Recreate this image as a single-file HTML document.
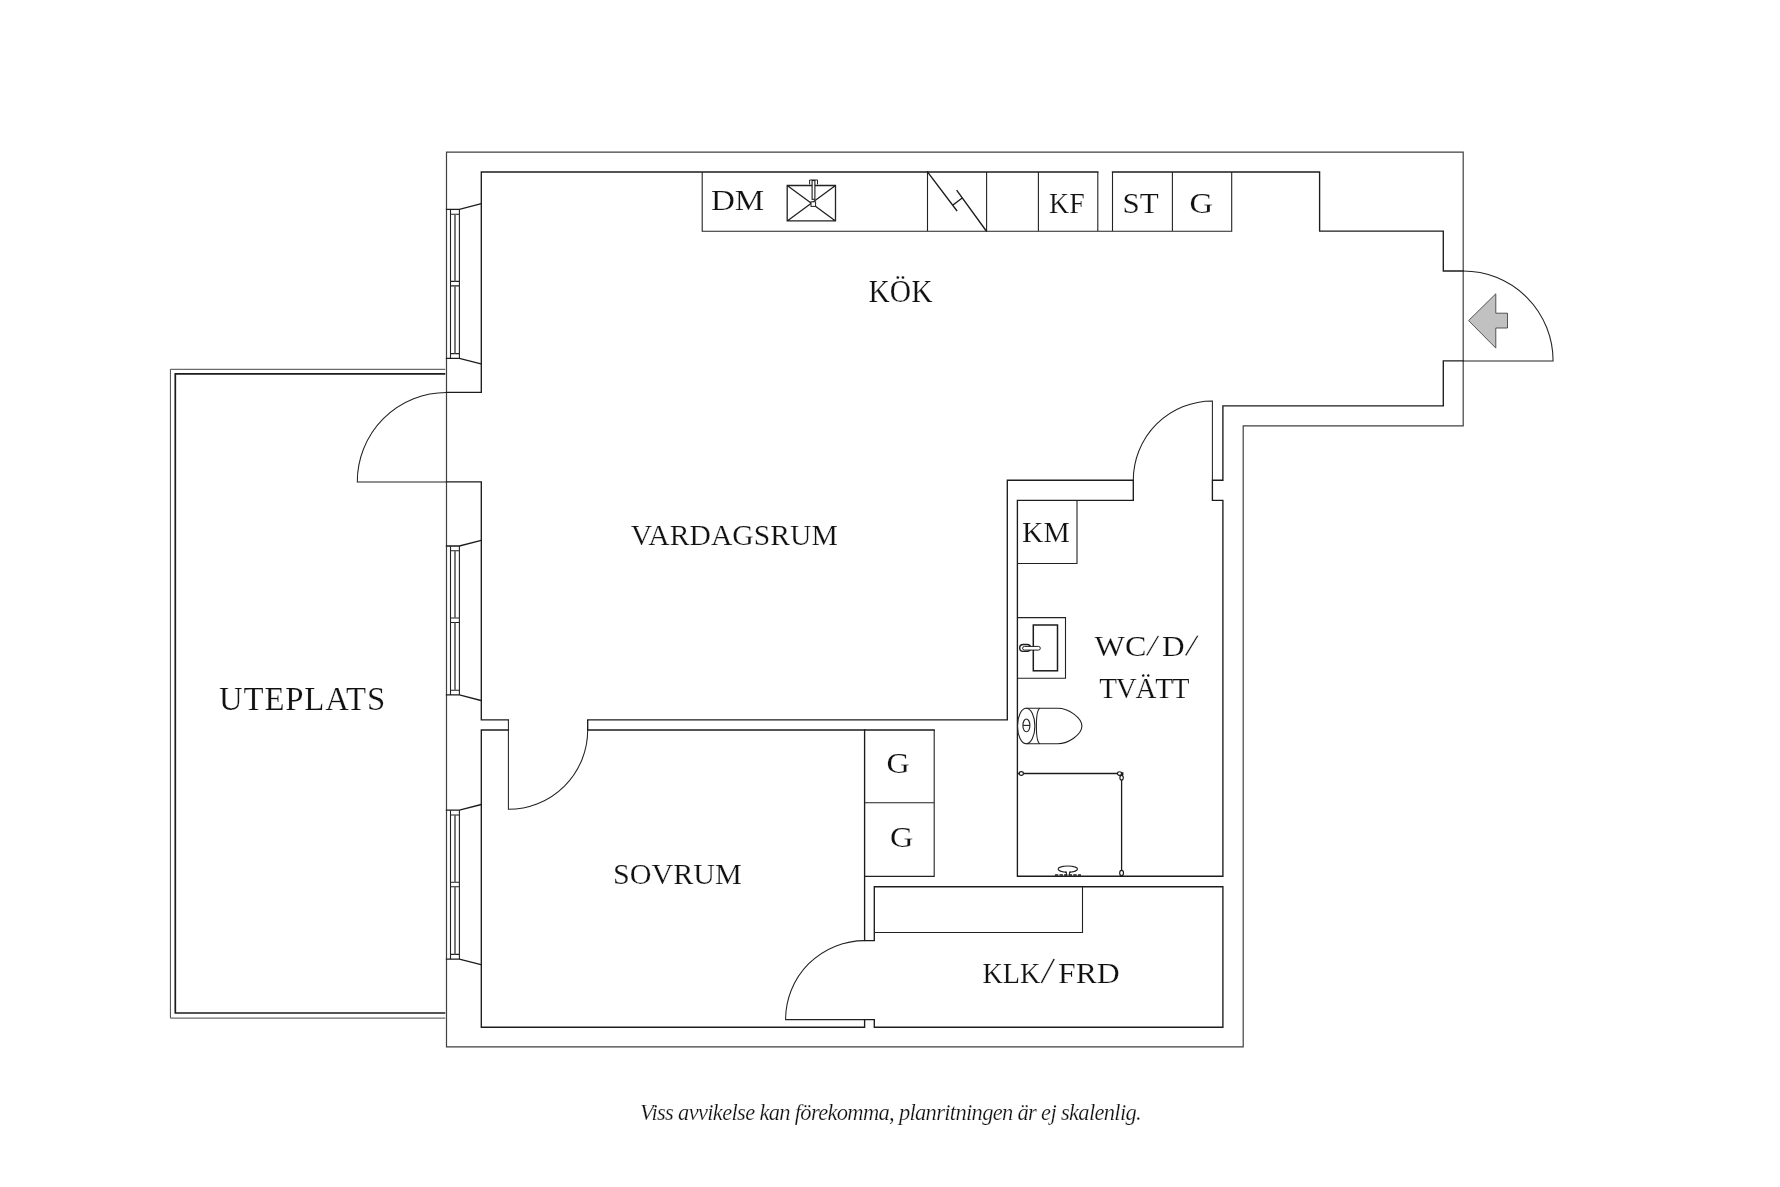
<!DOCTYPE html>
<html lang="sv">
<head>
<meta charset="utf-8">
<title>Planritning</title>
<style>
html,body{margin:0;padding:0;background:#fff;}
body{width:1780px;height:1187px;overflow:hidden;}
svg{display:block;filter:grayscale(1);}
.w{fill:none;stroke:#1c1c1c;stroke-width:1.35;stroke-linecap:square;stroke-linejoin:miter;}
.o{fill:none;stroke:#404040;stroke-width:1.2;stroke-linecap:square;}
.t{fill:none;stroke:#222;stroke-width:1.1;}
.d{fill:none;stroke:#222;stroke-width:1.05;}
.g{fill:none;stroke:#5a5a5a;stroke-width:1.6;}
text{font-family:"Liberation Serif",serif;fill:#111;stroke:#fff;stroke-width:.2;}

</style>
</head>
<body>
<svg width="1780" height="1187" viewBox="0 0 1780 1187">
<rect width="1780" height="1187" fill="#fff"/>

<!-- outer wall -->
<path class="o" d="M446.5 152.2H1463.2V425.8H1243.2V1046.9H446.5Z"/>

<!-- uteplats -->
<path class="o" style="stroke:#484848;stroke-width:1;stroke-linecap:butt" d="M445.3 369.3H170.4V1018.1H445.3"/>
<path class="w" style="stroke-width:1.7;stroke-linecap:butt" d="M445.3 373.8H175.3V1013H445.3"/>

<!-- inner walls: kitchen / living -->
<path class="w" d="M446.5 392.4H481.3V172H1097.8M1112.5 172H1319.6V231.1H1443.3V271H1463.2"/>
<path class="w" d="M1463.2 360.9H1443.3V405.9H1222.9V480.2H1212.4V500.3H1222.9V876.2H1017.4V500.3H1133.3V480.2H1007.3V719.9H587.7V730H934.2"/>
<path class="w" d="M446.5 481.9H481.3V719.9H508.4"/>
<path class="w" d="M508.4 730H481.3V1027.2H864.6V1019.6H874.3V1027.2H1222.9V886.7H874.3V940.6H864.6V730"/>

<!-- G closets -->
<path class="t" d="M934.2 730V876.4H864.6M864.6 802.8H934.2"/>
<!-- closet shelf -->
<path class="t" d="M874.3 932.5H1082.5V886.7"/>

<!-- kitchen counter -->
<path class="t" d="M702.2 172V231.2H1231.7V172M927.5 172V231.2M986.6 172V231.2M1038.4 172V231.2M1097.8 172V231.2M1112.5 172V231.2M1172.4 172V231.2"/>
<!-- stove -->
<path class="w" d="M927.5 172L956.7 210.5M957 190.6L986.3 231M952.9 205.1L962 198.2"/>
<!-- sink -->
<path class="t" style="stroke-width:1.3" d="M787.2 185.5H835.5V220.9H787.2ZM787.2 185.5L835.5 220.9M835.5 185.5L787.2 220.9"/>
<rect x="811" y="201.8" width="4.6" height="4.6" fill="#fff" stroke="#222" stroke-width="1"/>
<rect x="812.1" y="180.5" width="2.8" height="18.8" fill="#fff" stroke="#1c1c1c" stroke-width="1.1"/>
<path class="t" style="stroke-width:1" d="M809.6 184.4V180H817.5V184.4"/>

<!-- KM -->
<path class="t" d="M1077 500.3V563.5H1017.4"/>
<!-- basin -->
<path class="t" d="M1017.4 617.6H1065.5V678.2H1017.4"/>
<rect x="1033.3" y="625" width="24.2" height="45.8" fill="none" stroke="#1c1c1c" stroke-width="1.5"/>
<rect x="1019.7" y="644.5" width="10.8" height="6.9" rx="3.4" fill="#fff" stroke="#1c1c1c" stroke-width="1.4"/>
<rect x="1022.6" y="646.4" width="17.7" height="3.7" rx="1.85" fill="#fff" stroke="#1c1c1c" stroke-width="1"/>

<!-- toilet -->
<ellipse class="t" cx="1026.2" cy="726.05" rx="8.7" ry="17.75"/>
<path class="t" d="M1026.2 708.3H1057.6C1068.8 708.3 1081.9 717.85 1081.9 726.05C1081.9 734.25 1068.8 743.8 1057.6 743.8H1026.2"/>
<path class="t" d="M1039.9 708.3C1035.2 710.5 1035.2 741.6 1039.9 743.8"/>
<ellipse class="t" cx="1026.4" cy="725.4" rx="3.5" ry="6.4"/>
<path class="t" d="M1023 725.4H1029.8"/>

<!-- shower -->
<path class="w" style="stroke-width:1.3" d="M1018 773.5H1121.6V876"/>
<path d="M1120.6 772.2H1123.4V775H1120.6Z" fill="#1c1c1c"/>
<ellipse cx="1021.3" cy="773.5" rx="2.1" ry="1.9" fill="#fff" stroke="#1c1c1c" stroke-width="1.15"/>
<ellipse cx="1119.5" cy="773.5" rx="2" ry="1.8" fill="#fff" stroke="#1c1c1c" stroke-width="1.15"/>
<ellipse cx="1121.6" cy="777.7" rx="1.7" ry="2.3" fill="#fff" stroke="#1c1c1c" stroke-width="1.15"/>
<ellipse cx="1121.6" cy="873" rx="1.9" ry="2.6" fill="#fff" stroke="#1c1c1c" stroke-width="1.15"/>
<ellipse class="t" cx="1067.8" cy="869.1" rx="9.7" ry="3.1"/>
<rect x="1066.9" y="871" width="2.1" height="3" fill="#fff"/>
<path class="t" d="M1066.4 875.8V873.4Q1066.4 872.3 1065 871.9M1069.4 875.8V873.4Q1069.4 872.3 1070.8 871.9"/>
<path d="M1054.9 875H1081" stroke="#1c1c1c" stroke-width="1.3" stroke-dasharray="3.4 1.2" fill="none"/>

<!-- windows -->
<g id="win1">
<path class="w" d="M446.5 209.4H459.4L481.3 203.7M446.5 358.3H459.4L481.3 364"/>
<path class="t" d="M450.5 209.4V358.3M459.4 209.4V358.3M450.5 214.2H459.4M450.5 353.6H459.4M450.5 281.4H459.4M450.5 285.9H459.4"/>
<path class="g" d="M455 214.2V281.4M455 285.9V353.6"/>
</g>
<g id="win2" transform="translate(0 336.6)">
<path class="w" d="M446.5 209.4H459.4L481.3 203.7M446.5 358.3H459.4L481.3 364"/>
<path class="t" d="M450.5 209.4V358.3M459.4 209.4V358.3M450.5 214.2H459.4M450.5 353.6H459.4M450.5 281.4H459.4M450.5 285.9H459.4"/>
<path class="g" d="M455 214.2V281.4M455 285.9V353.6"/>
</g>
<g id="win3" transform="translate(0 600.8)">
<path class="w" d="M446.5 209.4H459.4L481.3 203.7M446.5 358.3H459.4L481.3 364"/>
<path class="t" d="M450.5 209.4V358.3M459.4 209.4V358.3M450.5 214.2H459.4M450.5 353.6H459.4M450.5 281.4H459.4M450.5 285.9H459.4"/>
<path class="g" d="M455 214.2V281.4M455 285.9V353.6"/>
</g>

<!-- doors -->
<path class="d" d="M1463.2 271A89.9 89.9 0 0 1 1553.1 360.9H1463.2"/>
<path class="d" d="M1212.4 480.2V401A79.2 79.2 0 0 0 1133.3 480.2"/>
<path class="d" d="M446.5 392.4A89.3 89.3 0 0 0 357.3 481.9H446.5"/>
<path class="d" d="M508.4 719.9V809.3A79.3 79.3 0 0 0 587.7 730"/>
<path class="d" d="M864.6 940.6A79 79 0 0 0 785.6 1019.6H864.6"/>

<!-- entrance arrow -->
<path d="M1468.6 320.6L1495.8 293.8V313.2H1507.5V328H1495.8V348.1Z" fill="#c1c1be" stroke="#444" stroke-width=".9"/>

<!-- labels -->
<text x="710.9" y="210.4" font-size="29" textLength="53.3" lengthAdjust="spacingAndGlyphs">DM</text>
<text x="1049.1" y="212.6" font-size="29" textLength="35.6" lengthAdjust="spacingAndGlyphs">KF</text>
<text x="1122.5" y="212.6" font-size="29" textLength="36.2" lengthAdjust="spacingAndGlyphs">ST</text>
<text x="1189.6" y="212.8" font-size="29" textLength="23.6" lengthAdjust="spacingAndGlyphs">G</text>
<text x="868.5" y="301.9" font-size="30.5" textLength="64.0" lengthAdjust="spacingAndGlyphs">KÖK</text>
<text x="630.7" y="544.9" font-size="29" textLength="207.1" lengthAdjust="spacingAndGlyphs">VARDAGSRUM</text>
<text x="219.0" y="710" font-size="32.8" textLength="166.2" lengthAdjust="spacing">UTEPLATS</text>
<text x="1022.0" y="541.8" font-size="29" textLength="47.7" lengthAdjust="spacingAndGlyphs">KM</text>
<text y="655.8"><tspan x="1094.6" font-size="29" textLength="51.8" lengthAdjust="spacingAndGlyphs">WC</tspan><tspan x="1145.9" y="655.2" font-size="32.6" rotate="11.4" stroke-width=".25">/</tspan><tspan x="1162.0" y="655.8" font-size="29" rotate="0" textLength="22.6" lengthAdjust="spacingAndGlyphs">D</tspan><tspan x="1185.1" y="655.1" font-size="32.8" rotate="12.3" stroke-width=".25">/</tspan></text>
<text x="1099.2" y="698.3" font-size="29" textLength="90.2" lengthAdjust="spacing">TVÄTT</text>
<text x="886.6" y="773.3" font-size="29" textLength="23.2" lengthAdjust="spacingAndGlyphs">G</text>
<text x="890.1" y="846.6" font-size="29" textLength="23.3" lengthAdjust="spacingAndGlyphs">G</text>
<text x="612.9" y="883.5" font-size="29" textLength="128.9" lengthAdjust="spacingAndGlyphs">SOVRUM</text>
<text y="983.1"><tspan x="982.4" font-size="29" textLength="57.9" lengthAdjust="spacingAndGlyphs">KLK</tspan><tspan x="1040.5" y="982.6" font-size="38.8" rotate="9" stroke-width=".3">/</tspan><tspan x="1058.0" y="983.1" font-size="29" rotate="0" textLength="61.8" lengthAdjust="spacingAndGlyphs">FRD</tspan></text>
<text x="640.0" y="1119.7" font-size="22.5" font-style="italic" stroke="none" fill="#161616" textLength="501.7" lengthAdjust="spacing">Viss avvikelse kan förekomma, planritningen är ej skalenlig.</text>
<!-- /labels -->
</svg>
</body>
</html>
